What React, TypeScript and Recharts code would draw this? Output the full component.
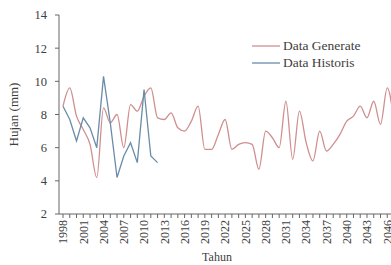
import { LineChart, Line, XAxis, YAxis, Legend } from "recharts";

const YEARS = [
  1998, 1999, 2000, 2001, 2002, 2003, 2004, 2005, 2006, 2007,
  2008, 2009, 2010, 2011, 2012, 2013, 2014, 2015, 2016, 2017,
  2018, 2019, 2020, 2021, 2022, 2023, 2024, 2025, 2026, 2027,
  2028, 2029, 2030, 2031, 2032, 2033, 2034, 2035, 2036, 2037,
  2038, 2039, 2040, 2041, 2042, 2043, 2044, 2045, 2046, 2047,
];

// Data Generate (mm)
const GENERATE = [
  8.5, 9.6, 7.9, 7.1, 6.2, 4.2, 8.4, 7.5, 8.0, 6.0,
  8.6, 8.2, 9.1, 9.6, 7.8, 7.7, 8.1, 7.2, 7.0, 7.6,
  8.5, 5.9, 5.9, 6.8, 7.7, 5.9, 6.2, 6.3, 6.2, 4.7,
  7.0, 6.6, 6.0, 8.8, 5.3, 8.2, 6.3, 5.2, 7.0, 5.8,
  6.2, 6.8, 7.6, 7.9, 8.5, 7.8, 8.8, 7.4, 9.6, 7.6,
];

// Data Historis (mm), 1998-2012
const HISTORIS = [8.5, 7.7, 6.4, 7.8, 7.2, 6.0, 10.3, 7.5, 4.2, 5.5, 6.3, 5.1, 9.5, 5.5, 5.1];

const Y_TICKS = [2, 4, 6, 8, 10, 12, 14];

const COLORS = {
  generate: "#cf8f8f",
  historis: "#6a8caa",
  axis: "#666666",
  text: "#404040",
};

const FONT = '"Liberation Serif", "Times New Roman", serif';

const data = YEARS.map((year, i) => ({
  year,
  generate: GENERATE[i],
  historis: i < HISTORIS.length ? HISTORIS[i] : null,
}));

function YearTick(props: any) {
  const { x, y, payload, index } = props;
  if (index % 3 !== 0) return <g />;
  return (
    <text
      transform={`translate(${x + 4.3},${y}) rotate(-90)`}
      textAnchor="end"
      fontSize={12}
      fontFamily={FONT}
      fill={COLORS.text}
    >
      {payload.value}
    </text>
  );
}

function LegendBox() {
  const rows = [
    { name: "Data Generate", color: COLORS.generate },
    { name: "Data Historis", color: COLORS.historis },
  ];
  return (
    <div style={{ fontFamily: FONT, fontSize: 13.5, color: COLORS.text }}>
      {rows.map((r) => (
        <div key={r.name} style={{ display: "flex", alignItems: "center", height: 17 }}>
          <svg width={29} height={4} style={{ marginRight: 2 }}>
            <line x1={0} y1={2} x2={28} y2={2} stroke={r.color} strokeWidth={1.3} />
          </svg>
          <span>{r.name}</span>
        </div>
      ))}
    </div>
  );
}

export default function App() {
  return (
    <div
      style={{
        position: "absolute",
        left: 0,
        top: 0,
        width: 391,
        height: 265,
        overflow: "hidden",
        background: "#fff",
      }}
    >
      <LineChart width={398} height={265} data={data} margin={{ top: 15, right: 1, bottom: 0, left: 0 }}>
        <XAxis
          dataKey="year"
          interval={0}
          height={51}
          padding={{ left: 4, right: 3 }}
          stroke={COLORS.axis}
          tickSize={4}
          tickMargin={2}
          tick={<YearTick />}
          label={{
            content: (p: any) => {
              const vb = p.viewBox || { x: 59, y: 214 };
              return (
                <text x={vb.x + 158} y={vb.y + 47} textAnchor="middle" fontSize={12} fontFamily={FONT} fill={COLORS.text}>
                  Tahun
                </text>
              );
            },
          }}
        />
        <YAxis
          width={59}
          domain={[2, 14]}
          ticks={Y_TICKS}
          stroke={COLORS.axis}
          tickSize={4}
          tickMargin={8}
          tick={{ fontSize: 12.5, fontFamily: FONT, fill: COLORS.text }}
          label={{
            content: (p: any) => {
              const vb = p.viewBox || { x: 0, y: 15, height: 199 };
              return (
                <text
                  transform={`translate(${vb.x + 18},${vb.y + vb.height / 2}) rotate(-90)`}
                  textAnchor="middle"
                  fontSize={13}
                  fontFamily={FONT}
                  fill={COLORS.text}
                >
                  Hujan (mm)
                </text>
              );
            },
          }}
        />
        <Legend
          layout="vertical"
          align="center"
          verticalAlign="middle"
          content={<LegendBox />}
          wrapperStyle={{ top: 37, left: 252, width: "auto" }}
        />
        <Line
          type="monotone"
          dataKey="generate"
          name="Data Generate"
          stroke={COLORS.generate}
          strokeWidth={1.3}
          dot={false}
          isAnimationActive={false}
        />
        <Line
          type="linear"
          dataKey="historis"
          name="Data Historis"
          stroke={COLORS.historis}
          strokeWidth={1.3}
          dot={false}
          isAnimationActive={false}
        />
      </LineChart>
    </div>
  );
}
